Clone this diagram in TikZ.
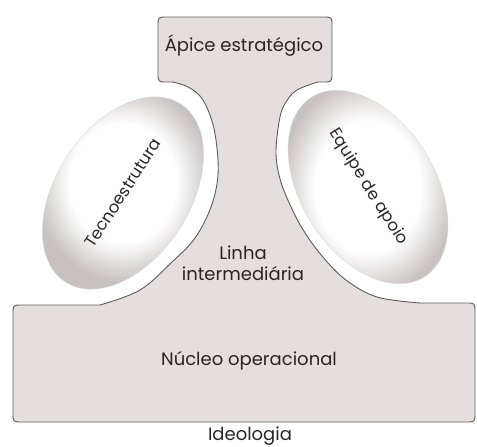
\documentclass[tikz,border=0pt]{standalone}
\usepackage{fontspec}
\setmainfont{Poppins}
\usetikzlibrary{shapes.geometric}
\definecolor{paper}{HTML}{E4DEDC}
\definecolor{rim}{HTML}{C8C1C1}
\definecolor{edge}{HTML}{605A5A}
\definecolor{ink}{HTML}{2A2626}
\pgfdeclareradialshading{egg}{\pgfpoint{0bp}{0bp}}{color(0bp)=(white); color(15bp)=(white);
    color(25bp)=(rim); color(50bp)=(rim)}

\begin{document}
\begin{tikzpicture}[x=1pt, y=-1pt, text=ink, font=\fontsize{18}{21}\selectfont,
    part/.style={draw=edge, line width=0.9pt, fill=paper},
    gland/.style={ellipse, minimum width=212pt, minimum height=134pt, draw=black!15,
        shade, shading=egg, font=\fontsize{16.5}{19}\selectfont}]
    \useasboundingbox (0,0) rectangle (477,447);

    % the body: apex, middle line and operating core in one outline
    \draw[part] plot[smooth, tension=.6] coordinates {(100,305) (140,290) (172,262) (195,238)
            (211,207) (218,175) (216,140) (210,115) (200,96) (186,86) (172,82)}
        -- (167,82) .. controls (158,82) .. (158,73)
        -- (158,26) .. controls (158,17) .. (167,17)
        -- (323,17) .. controls (332,17) .. (332,26)
        -- (332,73) .. controls (332,82) .. (323,82)
        -- plot[smooth, tension=.6] coordinates {(318,82) (297,90) (286,102) (280,117)
            (276,150) (279,175) (287,198) (302,228) (322,256) (346,280) (377,297) (420,303)}
        -- (466,303) .. controls (475,303) .. (475,312)
        -- (475,413) .. controls (475,422) .. (466,422)
        -- (22,422) .. controls (13,422) .. (13,413)
        -- (13,314) .. controls (13,305) .. (22,305)
        -- cycle;

    \node (apice) at (244,46) {Ápice estratégico};
    \node (linha) at (243,263) [align=center] {Linha\\intermediária};
    \node (nucleo) at (249,361) {Núcleo operacional};
    \node (ideologia) at (250,436) {Ideologia};

    \node (tecno) at (123,193) [gland, rotate=57] {Tecnoestrutura};
    \node (apoio) at (368,187) [gland, rotate=-58] {Equipe de apoio};
\end{tikzpicture}
\end{document}
